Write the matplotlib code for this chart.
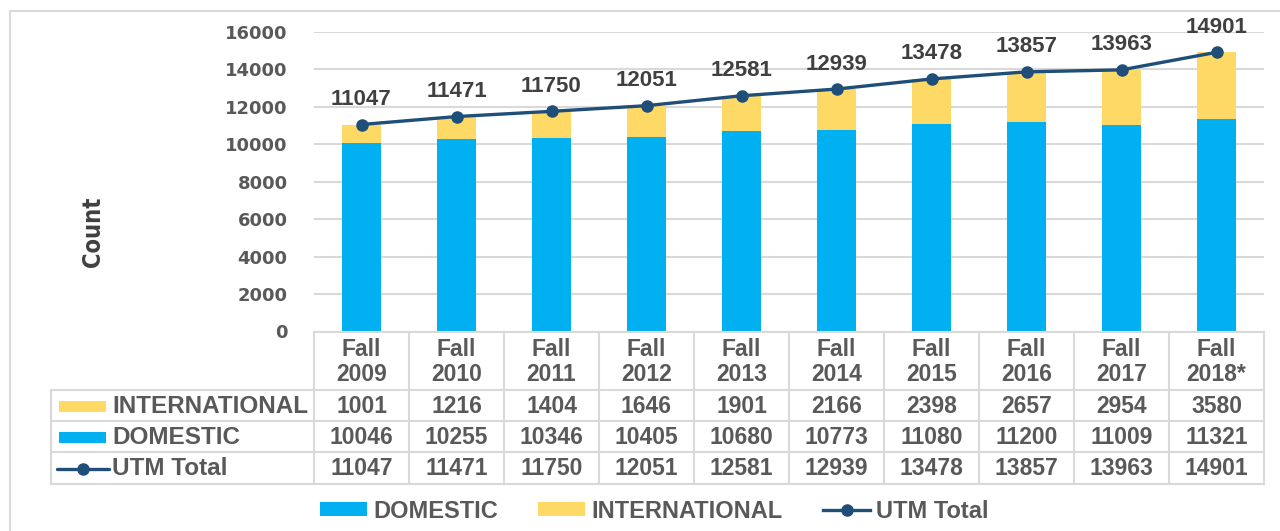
import matplotlib
matplotlib.use("Agg")
import matplotlib.pyplot as plt
from matplotlib.lines import Line2D
from matplotlib.patches import Rectangle
import matplotlib.transforms as mtrans

categories = ["Fall\n2009", "Fall\n2010", "Fall\n2011", "Fall\n2012", "Fall\n2013",
              "Fall\n2014", "Fall\n2015", "Fall\n2016", "Fall\n2017", "Fall\n2018*"]
international = [1001, 1216, 1404, 1646, 1901, 2166, 2398, 2657, 2954, 3580]
domestic = [10046, 10255, 10346, 10405, 10680, 10773, 11080, 11200, 11009, 11321]
utm_total = [11047, 11471, 11750, 12051, 12581, 12939, 13478, 13857, 13963, 14901]
yticks = [0, 2000, 4000, 6000, 8000, 10000, 12000, 14000, 16000]

C_DOM = "#00B0F0"
C_INT = "#FFD966"
C_LINE = "#1F4E79"
C_TXT = "#595959"
C_GRID = "#D9D9D9"
TFONT = ["Liberation Sans", "DejaVu Sans"]

W, H = 1280, 531
fig = plt.figure(figsize=(W / 100, H / 100), dpi=100)

def fx(px):
    return px / W

def fy(py):
    return 1 - py / H

ax_left, ax_right, ax_top, ax_bot = 314, 1264, 31.7, 331.5
ax = fig.add_axes([fx(ax_left), fy(ax_bot), fx(ax_right) - fx(ax_left), fy(ax_top) - fy(ax_bot)])

x = list(range(len(categories)))
b_dom = ax.bar(x, domestic, width=0.42, color=C_DOM, zorder=2, label="DOMESTIC")
b_int = ax.bar(x, international, width=0.42, bottom=domestic, color=C_INT, zorder=2, label="INTERNATIONAL")
ln, = ax.plot(x, utm_total, color=C_LINE, lw=2.4, marker="o", ms=8, zorder=3, label="UTM Total")
for xi, v in zip(x, utm_total):
    ax.annotate(str(v), (xi, v), xytext=(0, 18), textcoords="offset points",
                ha="center", va="center", fontsize=16, fontweight="bold",
                color="#404040", family=TFONT)

ax.set_xlim(-0.5, len(categories) - 0.5)
ax.set_ylim(0, 16000)
ax.set_yticks(yticks)
ax.set_yticklabels([str(t) for t in yticks], fontsize=13, fontweight="bold", color=C_TXT,
                   family=["DejaVu Sans"])
ax.tick_params(axis="y", length=0, pad=19)
ax.set_xticks([])
ax.yaxis.grid(True, color=C_GRID, lw=1.5, zorder=0)
ax.set_axisbelow(True)
for s in ax.spines.values():
    s.set_visible(False)

# y label
fig.text(fx(93), fy(232), "Count", rotation=90, ha="center", va="center", fontsize=17,
         fontweight="bold", fontstretch="condensed", color="#404040", family=["DejaVu Sans"])

# data table under the axis
blend = mtrans.blended_transform_factory(ax.transData, fig.transFigure)
row_edges = [332, 390, 420.5, 452, 483.5]
tbl_left = 51
lkw = dict(color=C_GRID, lw=1.5, clip_on=False)
for b in [i - 0.5 for i in range(len(categories) + 1)]:
    fig.add_artist(Line2D([b, b], [fy(row_edges[0]), fy(row_edges[-1])], transform=blend, **lkw))
fig.add_artist(Line2D([fx(tbl_left), fx(tbl_left)], [fy(row_edges[1]), fy(row_edges[-1])],
                      transform=fig.transFigure, **lkw))
fig.add_artist(Line2D([fx(ax_left), fx(ax_right)], [fy(row_edges[0])] * 2, transform=fig.transFigure, **lkw))
for e in row_edges[1:]:
    fig.add_artist(Line2D([fx(tbl_left), fx(ax_right)], [fy(e)] * 2, transform=fig.transFigure, **lkw))

tkw = dict(ha="center", va="center", fontsize=16.5, fontweight="bold", color=C_TXT, family=TFONT)
hdr_y = (row_edges[0] + row_edges[1]) / 2 + 1
for xi, c in zip(x, categories):
    fig.text(xi, fy(hdr_y), c, transform=blend, linespacing=1.15, **tkw)

rows = [("INTERNATIONAL", international, "patch", C_INT),
        ("DOMESTIC", domestic, "patch", C_DOM),
        ("UTM Total", utm_total, "line", C_LINE)]
for r, (name, vals, kind, col) in enumerate(rows):
    cy = (row_edges[r + 1] + row_edges[r + 2]) / 2 + 1
    for xi, v in zip(x, vals):
        fig.text(xi, fy(cy), str(v), transform=blend, **tkw)
    if kind == "patch":
        fig.add_artist(Rectangle((fx(59), fy(cy + 5.5)), fx(106) - fx(59), fy(cy - 5.5) - fy(cy + 5.5),
                                 transform=fig.transFigure, color=col, lw=0))
    else:
        fig.add_artist(Line2D([fx(57), fx(109)], [fy(cy)] * 2, transform=fig.transFigure,
                              color=col, lw=2.4, solid_capstyle="round"))
        fig.add_artist(Line2D([fx(83)], [fy(cy)], transform=fig.transFigure, color=col,
                              marker="o", ms=8, lw=0))
    fig.text(fx(112), fy(cy), name, ha="left", va="center", fontsize=17.5, fontweight="bold",
             color=C_TXT, family=TFONT)

# bottom legend
leg = fig.legend([b_dom, b_int, ln], ["DOMESTIC", "INTERNATIONAL", "UTM Total"],
                 loc="center left", bbox_to_anchor=(fx(320), fy(511)),
                 ncol=3, frameon=False, borderpad=0, borderaxespad=0, handlelength=2.0,
                 handleheight=0.5, handletextpad=0.26, columnspacing=1.7,
                 prop={"family": TFONT, "weight": "bold", "size": 17})
for t in leg.get_texts():
    t.set_color(C_TXT)

# outer chart frame
fig.add_artist(Rectangle((fx(10), fy(560)), fx(1300) - fx(10), fy(11) - fy(560),
                         transform=fig.transFigure, fill=False, edgecolor=C_GRID, lw=1.5, clip_on=False))

fig.savefig("out.png", dpi=100)
